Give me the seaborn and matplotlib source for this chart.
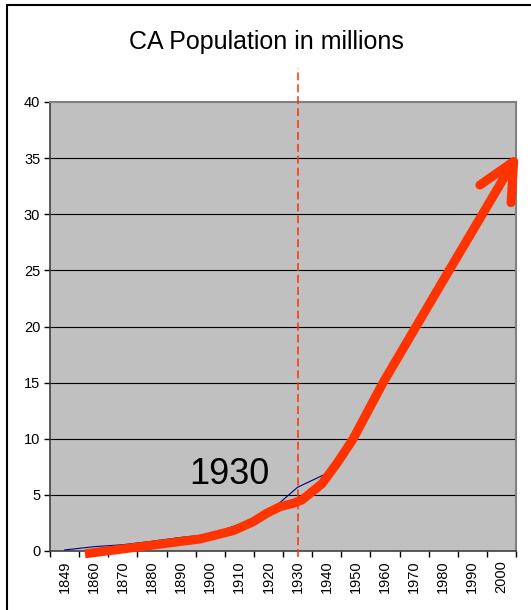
"""CA population chart with a hand-drawn growth arrow marking 1930."""

import matplotlib

matplotlib.use("Agg")

import matplotlib.pyplot as plt
import numpy as np
import pandas as pd
import seaborn as sns
from matplotlib.lines import Line2D

# census years shown as categories on the x axis
YEARS = ["1849", "1860", "1870", "1880", "1890", "1900", "1910", "1920",
         "1930", "1940", "1950", "1960", "1970", "1980", "1990", "2000"]

# population (millions) - only the visible part of the thin series, up to 1940
POPULATION = [0.093, 0.380, 0.560, 0.865, 1.213, 1.485, 2.378, 3.427,
              5.677, 6.907]

# hand-drawn red curve, in (category position, millions)
SKETCH_X = [0.70, 2.59, 4.65, 5.79, 6.48, 6.94, 7.40, 7.85, 8.15, 8.84,
            9.35, 9.90, 10.93, 13.17, 15.42]
SKETCH_Y = [-0.25, 0.38, 1.07, 1.81, 2.61, 3.36, 3.95, 4.25, 4.54, 6.00,
            7.80, 9.95, 14.97, 24.85, 34.70]

# arrow head barbs: left barb end, tip, lower barb end
HEAD_X = [14.26, 15.42, 15.33]
HEAD_Y = [32.60, 34.70, 31.03]

MARK_YEAR = "1930"
Y_TICKS = [0, 5, 10, 15, 20, 25, 30, 35, 40]

RED = "#FF3300"
NAVY = "#000080"

sns.set_theme(style="white")
plt.rcParams["font.family"] = ["Liberation Sans", "DejaVu Sans"]

fig = plt.figure(figsize=(5.31, 6.10), dpi=100)
ax = fig.add_axes([50 / 531, 59 / 610, 466 / 531, 449 / 610])
ax.set_facecolor("#C0C0C0")

pos = np.arange(len(YEARS))
pop = pd.DataFrame({"pos": pos[: len(POPULATION)], "pop": POPULATION})
sns.lineplot(data=pop, x="pos", y="pop", color=NAVY, linewidth=0.8,
             estimator=None, sort=False, ax=ax, zorder=3)

sketch = pd.DataFrame({"x": SKETCH_X, "y": SKETCH_Y})
sns.lineplot(data=sketch, x="x", y="y", color=RED, linewidth=6.5,
             estimator=None, sort=False, ax=ax, zorder=5, clip_on=False,
             solid_capstyle="butt", solid_joinstyle="round")
head = pd.DataFrame({"x": HEAD_X, "y": HEAD_Y})
sns.lineplot(data=head, x="x", y="y", color=RED, linewidth=6.5,
             estimator=None, sort=False, ax=ax, zorder=5, clip_on=False,
             solid_capstyle="round", solid_joinstyle="round")

# dashed marker at 1930, running above the plot area
mark = YEARS.index(MARK_YEAR)
ax.plot([mark, mark], [-0.5, 43.0], color=RED, linewidth=1.1,
        dashes=(5.2, 2.6), clip_on=False, zorder=4)
ax.text(5.65, 5.97, MARK_YEAR, ha="center", va="baseline", fontsize=26,
        color="black", zorder=6)

ax.set_xlim(-0.5, len(YEARS) - 0.5)
ax.set_ylim(0, 40)
ax.set_yticks(Y_TICKS)
ax.set_xticks(pos)
ax.set_xticklabels(YEARS, rotation=90, fontsize=10.5)
ax.set_xticks(np.arange(len(YEARS) + 1) - 0.5, minor=True)
ax.tick_params(axis="x", which="major", length=0, pad=6.5, colors="black")
ax.tick_params(axis="x", which="minor", length=4, width=1, direction="out",
               color="black", bottom=True)
ax.tick_params(axis="y", length=4, width=1, direction="out", left=True,
               pad=3, labelsize=10.5, colors="black")
ax.set_xlabel("")
ax.set_ylabel("")
ax.grid(False)
for y in Y_TICKS[1:-1]:
    ax.axhline(y, color="black", linewidth=0.8, zorder=1)

for side in ["top", "right"]:
    ax.spines[side].set_color("#808080")
    ax.spines[side].set_linewidth(1.5)
for side in ["left", "bottom"]:
    ax.spines[side].set_color("#404040")
    ax.spines[side].set_linewidth(1.2)

fig.text(0.502, 1 - 49 / 610, "CA Population in millions", ha="center",
         va="baseline", fontsize=18, color="black")

# chart frame (only the top and left edges are inside the crop)
fig.add_artist(Line2D([7 / 531, 7 / 531], [0, 1 - 5 / 610],
                      transform=fig.transFigure, color="black", linewidth=1.5))
fig.add_artist(Line2D([7 / 531, 1], [1 - 5 / 610, 1 - 5 / 610],
                      transform=fig.transFigure, color="black", linewidth=1.5))

fig.savefig("out.png", dpi=100, facecolor="white")
